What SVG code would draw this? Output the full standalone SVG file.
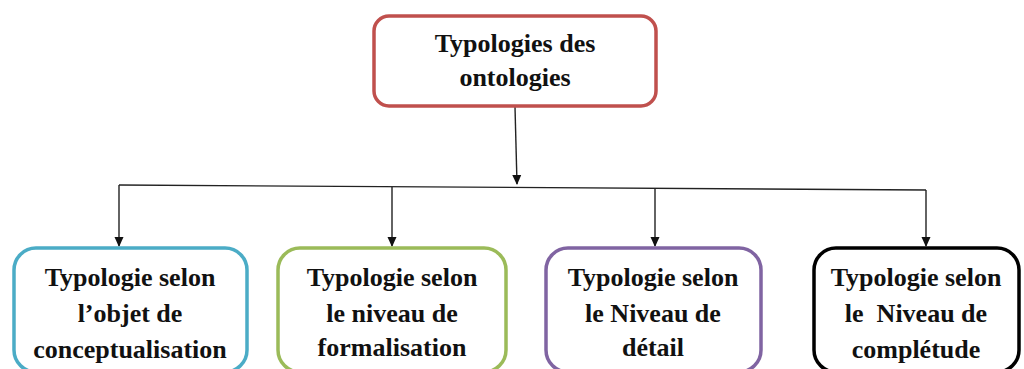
<svg xmlns="http://www.w3.org/2000/svg" width="1024" height="369" viewBox="0 0 1024 369">
<style>
.box{fill:#fff;stroke-width:3.5}
.t{font-family:"Liberation Serif","Times New Roman",serif;font-weight:bold;font-size:26px;fill:#111;text-anchor:middle}
.c{stroke:#222;stroke-width:1.4;fill:none}
</style>
<defs>
<marker id="ah" markerWidth="10" markerHeight="10" refX="9" refY="5" orient="auto" markerUnits="userSpaceOnUse">
<path d="M0,0.5 L10,5 L0,9.5 Z" fill="#111"/>
</marker>
</defs>
<rect width="1024" height="369" fill="#fff"/>
<g id="connectors">
<line class="c" x1="515" y1="107" x2="517" y2="184" marker-end="url(#ah)"/>
<line class="c" x1="119" y1="185" x2="926" y2="190"/>
<line class="c" x1="119" y1="185" x2="119" y2="246" marker-end="url(#ah)"/>
<line class="c" x1="392" y1="187" x2="392" y2="246" marker-end="url(#ah)"/>
<line class="c" x1="655" y1="188.5" x2="655" y2="246" marker-end="url(#ah)"/>
<line class="c" x1="926" y1="190" x2="926" y2="246" marker-end="url(#ah)"/>
</g>
<g id="root">
<rect class="box" x="374" y="16" width="282" height="90" rx="15" stroke="#c0504d"/>
<text class="t" x="515" y="52">Typologies des</text>
<text class="t" x="515" y="86">ontologies</text>
</g>
<g id="n1">
<rect class="box" x="14" y="248" width="233" height="124" rx="22" stroke="#4bacc6"/>
<text class="t" x="130" y="286">Typologie selon</text>
<text class="t" x="130" y="322">l’objet de</text>
<text class="t" x="130" y="358">conceptualisation</text>
</g>
<g id="n2">
<rect class="box" x="278" y="248" width="228" height="124" rx="22" stroke="#9bbb59"/>
<text class="t" x="392" y="286">Typologie selon</text>
<text class="t" x="392" y="322">le niveau de</text>
<text class="t" x="392" y="356">formalisation</text>
</g>
<g id="n3">
<rect class="box" x="546" y="248" width="215" height="124" rx="22" stroke="#8064a2"/>
<text class="t" x="653" y="286">Typologie selon</text>
<text class="t" x="653" y="322">le Niveau de</text>
<text class="t" x="653" y="356">détail</text>
</g>
<g id="n4">
<rect class="box" x="814" y="248" width="205" height="124" rx="22" stroke="#000" stroke-width="4"/>
<text class="t" x="916" y="286">Typologie selon</text>
<text class="t" x="916" y="322" xml:space="preserve">le  Niveau de</text>
<text class="t" x="916" y="358">complétude</text>
</g>
</svg>
